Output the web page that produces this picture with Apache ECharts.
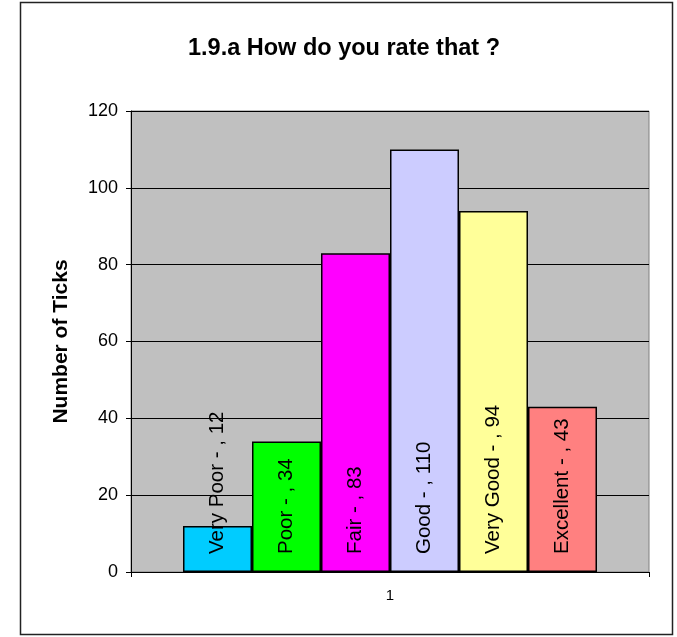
<!DOCTYPE html>
<html>
<head>
<meta charset="utf-8">
<title>1.9.a How do you rate that ?</title>
<script src="https://cdn.jsdelivr.net/npm/echarts@6/dist/echarts.min.js"></script>
<style>
  html, body { margin: 0; padding: 0; background: #fff; }
  #chart { width: 677px; height: 637px; }
</style>
</head>
<body>
<div id="chart"></div>
<script>
// data
const ratings = ["Very Poor", "Poor", "Fair", "Good", "Very Good", "Excellent"];
const counts = [12, 34, 83, 110, 94, 43];
const xLabels = ["1"];
const yMin = 0;
const yMax = 120;
const yStep = 20;

const barColors = ["#00CCFF", "#00FF00", "#FF00FF", "#CCCCFF", "#FFFF99", "#FF8080"];
const font = 'Arial, "Liberation Sans", sans-serif';

const chart = echarts.init(document.getElementById("chart"));

const series = ratings.map((name, i) => ({
  name: name,
  type: "bar",
  barWidth: 69,
  barGap: "0%",
  data: [counts[i]],
  itemStyle: {
    color: barColors[i],
    borderColor: "#000",
    borderWidth: 1.5,
  },
  label: {
    show: true,
    position: "insideBottom",
    distance: 18,
    rotate: 90,
    align: "left",
    verticalAlign: "middle",
    formatter: "{a} - , {c}",
    color: "#000",
    fontFamily: font,
    fontSize: 20.5,
  },
}));

chart.setOption({
  animation: false,
  backgroundColor: "#fff",
  title: {
    text: "1.9.a How do you rate that ?",
    left: 339,
    top: 32,
    textAlign: "center",
    textStyle: {
      fontFamily: font,
      fontSize: 23.5,
      fontWeight: "bold",
      color: "#000",
    },
  },
  grid: {
    left: 131,
    right: 28,
    top: 111,
    bottom: 65,
    show: true,
    backgroundColor: "#C0C0C0",
    borderColor: "#808080",
    borderWidth: 1,
  },
  xAxis: {
    type: "category",
    data: xLabels,
    axisLine: { lineStyle: { color: "#000", width: 1 } },
    axisTick: { show: true, length: 5, lineStyle: { color: "#000" } },
    axisLabel: {
      margin: 16,
      color: "#000",
      fontFamily: font,
      fontSize: 15,
    },
  },
  yAxis: {
    type: "value",
    min: yMin,
    max: yMax,
    interval: yStep,
    name: "Number of Ticks",
    nameLocation: "middle",
    nameGap: 59,
    nameRotate: 90,
    nameTextStyle: {
      fontFamily: font,
      fontSize: 21,
      fontWeight: "bold",
      color: "#000",
    },
    axisLine: { show: true, lineStyle: { color: "#000", width: 1 } },
    axisTick: { show: true, length: 5, lineStyle: { color: "#000" } },
    axisLabel: {
      margin: 13,
      color: "#000",
      fontFamily: font,
      fontSize: 18,
    },
    splitLine: { show: true, lineStyle: { color: "#000", width: 1 } },
  },
  graphic: [
    {
      type: "rect",
      silent: true,
      shape: { x: 20.5, y: 2.5, width: 652, height: 632 },
      style: { fill: null, stroke: "#222", lineWidth: 1.5 },
      z: 100,
    },
  ],
  series: series,
});
</script>
</body>
</html>
